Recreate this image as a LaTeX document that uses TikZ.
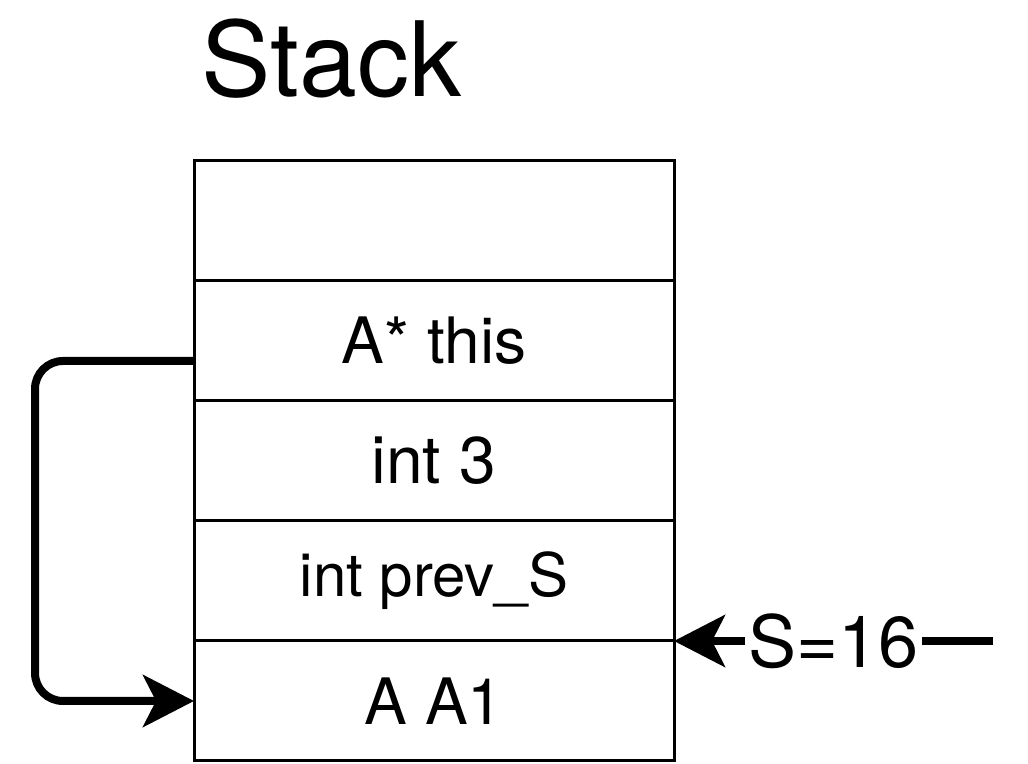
\documentclass[tikz,border=0pt]{standalone}
\usepackage{fontspec}
\setmainfont{TeX Gyre Heros}
\usetikzlibrary{arrows.meta, positioning}
\tikzstyle{cell} = [rectangle, minimum width=240pt, minimum height=60pt, draw=black, line width=1.5pt, outer sep=0pt, inner sep=0pt, text centered, font=\fontsize{32pt}{36pt}\selectfont]
\tikzstyle{arrow} = [line width=4pt, -{Stealth[length=25.5pt, width=26pt, inset=6.5pt]}]

\begin{document}
\begin{tikzpicture}[node distance=0pt]
    \useasboundingbox (0pt,0pt) rectangle (514pt,382pt);

    % Stack cells
    \node (free) [cell] at (217pt,271.5pt) {};
    \node (this) [cell, below=of free] {A* this};
    \node (three) [cell, below=of this, font=\fontsize{33pt}{38pt}\selectfont] {int 3};
    \node (prev) [cell, below=of three, font=\fontsize{30pt}{35pt}\selectfont] {int prev\_S};
    \node (aone) [cell, below=of prev] {A A1};

    % Title
    \node (title) [above right=32pt and 3.5pt of free.north west, anchor=base west, inner sep=0pt, font=\fontsize{52pt}{60pt}\selectfont] {Stack};

    % Stack pointer
    \coordinate (sptr) at ([xshift=159.5pt]aone.north east);

    % Arrows
    \draw [arrow, rounded corners=14pt] ([yshift=-10pt]this.west) -- ++(-79.5pt,0pt) |- (aone.west);
    \draw [arrow] (sptr) -- node[fill=white, inner xsep=1.5pt, inner ysep=0pt, font=\fontsize{36pt}{40pt}\selectfont] {S=16} (aone.north east);
\end{tikzpicture}
\end{document}
